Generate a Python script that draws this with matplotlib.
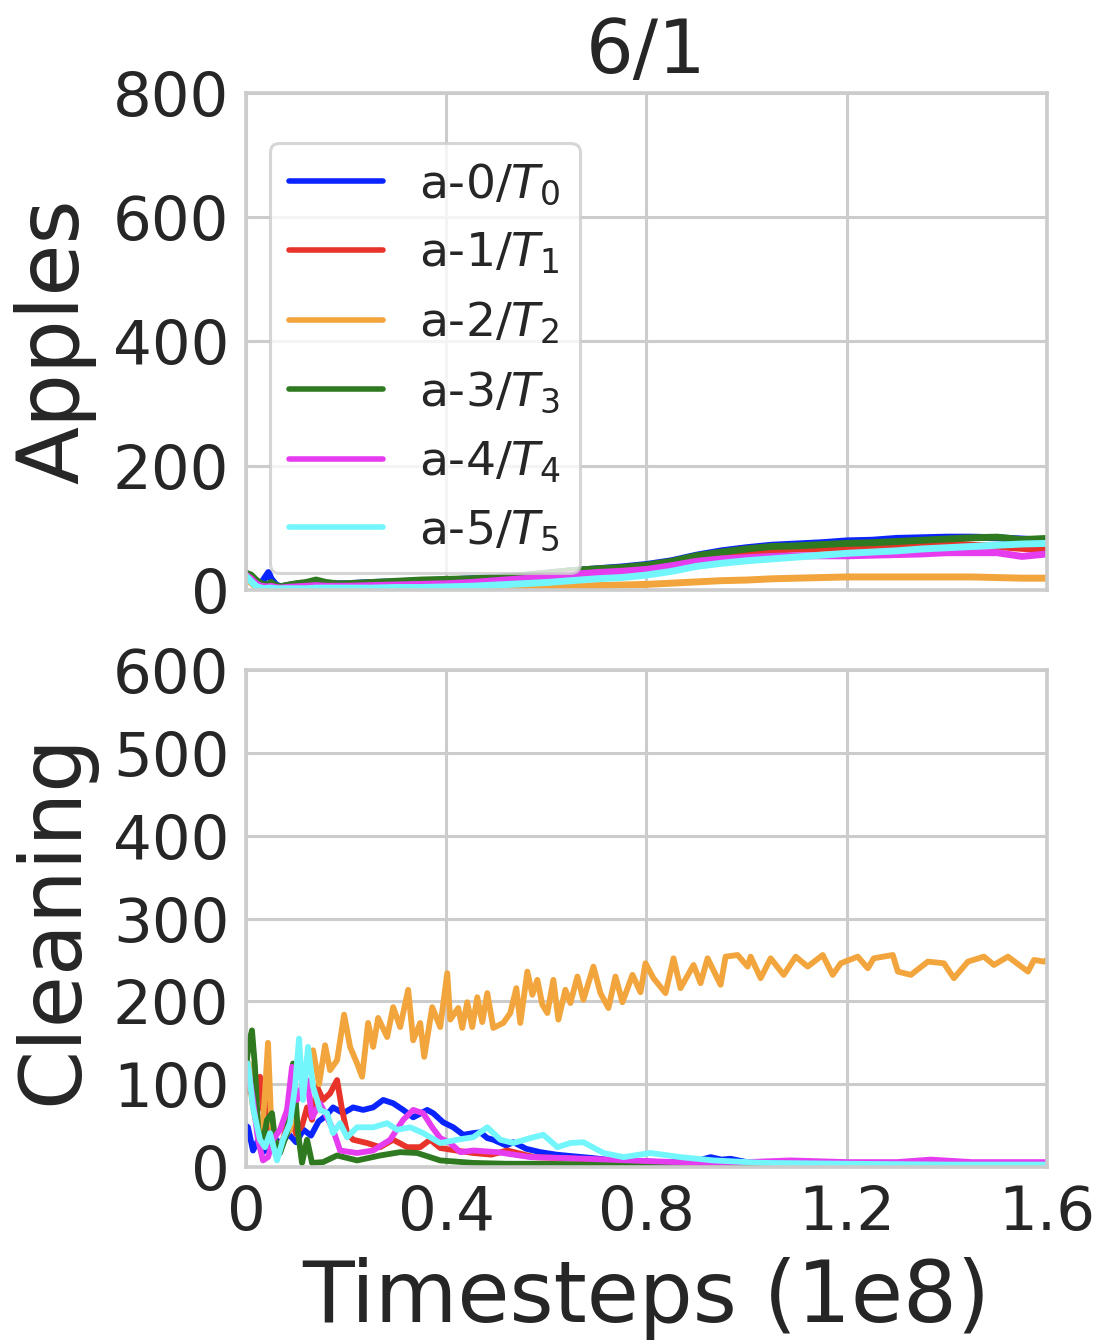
import matplotlib
matplotlib.use('Agg')
import matplotlib.pyplot as plt
import seaborn as sns

sns.set_style('whitegrid')
plt.rcParams['font.family'] = ['DejaVu Sans']
plt.rcParams['mathtext.fontset'] = 'dejavusans'

labels = ['a-0/$T_0$', 'a-1/$T_1$', 'a-2/$T_2$', 'a-3/$T_3$', 'a-4/$T_4$', 'a-5/$T_5$']
colors = ['#0a24ff', '#e8332a', '#f2a53d', '#2f7a20', '#e63cf0', '#72f6fc']

# ---- Apples (top panel), common x in units of 1e8 steps ----
top_x = [0, 0.01, 0.02, 0.03, 0.04, 0.045, 0.05, 0.06, 0.07, 0.08, 0.1, 0.12, 0.14, 0.16, 0.18,
         0.2, 0.25, 0.3, 0.35, 0.4, 0.45, 0.5, 0.55, 0.6, 0.65, 0.7, 0.75, 0.8, 0.85, 0.9, 0.95,
         1.0, 1.05, 1.1, 1.15, 1.2, 1.25, 1.3, 1.35, 1.4, 1.45, 1.5, 1.55, 1.6]
apples_a0 = [26, 22, 14, 10, 22, 28, 18, 8, 5, 7, 9, 11, 13, 11, 10, 10, 12, 13, 15, 16, 18, 20,
             23, 27, 31, 34, 37, 41, 47, 56, 63, 68, 72, 74, 76, 79, 80, 83, 84, 85, 85, 84, 82, 80]
apples_a1 = [25, 20, 12, 8, 7, 8, 9, 6, 4, 6, 8, 9, 11, 10, 9, 9, 11, 12, 14, 15, 16, 18,
             21, 25, 28, 31, 33, 37, 43, 52, 58, 62, 64, 66, 67, 68, 69, 70, 73, 75, 72, 70, 67, 65]
apples_a2 = [20, 12, 5, 2, 1, 1, 1, 1, 1, 1, 1, 1, 1, 1, 1, 1, 1, 1, 1, 1, 2, 3,
             4, 5, 6, 7, 8, 9, 11, 13, 15, 16, 18, 19, 20, 21, 21, 21, 21, 21, 21, 20, 19, 19]
apples_a3 = [27, 24, 16, 10, 8, 9, 12, 7, 5, 7, 10, 12, 16, 12, 10, 10, 12, 14, 16, 17, 18, 20,
             23, 27, 31, 34, 36, 40, 46, 55, 61, 66, 70, 71, 73, 75, 76, 78, 80, 82, 84, 85, 81, 83]
apples_a4 = [24, 18, 10, 6, 5, 5, 6, 4, 3, 4, 5, 6, 7, 6, 6, 6, 7, 8, 9, 10, 12, 15,
             18, 21, 25, 28, 30, 33, 39, 46, 50, 52, 54, 55, 55, 55, 56, 57, 58, 60, 60, 60, 54, 58]
apples_a5 = [22, 14, 6, 3, 2, 3, 3, 2, 2, 2, 2, 2, 3, 3, 3, 3, 3, 4, 4, 5, 6, 8,
             10, 12, 15, 18, 20, 24, 30, 38, 43, 47, 50, 53, 56, 59, 61, 63, 66, 68, 70, 72, 74, 75]

# ---- Cleaning (bottom panel) ----
clean_x_a0 = [0.0, 0.004, 0.014, 0.024, 0.034, 0.046, 0.056, 0.07, 0.085, 0.1, 0.115, 0.13, 0.145,
              0.16, 0.174, 0.194, 0.214, 0.234, 0.254, 0.274, 0.294, 0.314, 0.334, 0.362, 0.374,
              0.394, 0.414, 0.434, 0.454, 0.468, 0.482, 0.494, 0.52, 0.534, 0.56, 0.588, 0.62,
              0.654, 0.69, 0.734, 0.78, 0.83, 0.88, 0.91, 0.928, 0.95, 0.968, 1.0, 1.05, 1.1,
              1.2, 1.3, 1.4, 1.5, 1.6]
clean_a0 = [50, 48, 20, 32, 18, 24, 35, 28, 40, 30, 45, 38, 55, 62, 72, 65, 72, 69, 72, 81,
            77, 69, 60, 69, 65, 54, 48, 39, 41, 42, 35, 33, 26, 30, 22, 18, 15, 13, 11, 8,
            7, 6, 6, 9, 12, 9, 10, 6, 5, 4, 4, 3, 3, 3, 3]

clean_x_a1 = [0.0, 0.008, 0.014, 0.018, 0.028, 0.034, 0.042, 0.052, 0.062, 0.075, 0.088, 0.1,
              0.112, 0.122, 0.132, 0.142, 0.154, 0.168, 0.182, 0.192, 0.202, 0.214, 0.242,
              0.268, 0.294, 0.322, 0.348, 0.368, 0.388, 0.42, 0.454, 0.49, 0.522, 0.576, 0.62,
              0.656, 0.72, 0.8, 0.9, 1.0, 1.2, 1.4, 1.6]
clean_a1 = [90, 97, 80, 101, 109, 69, 81, 29, 15, 35, 65, 40, 50, 72, 57, 97, 81, 89, 105, 69,
            41, 33, 29, 24, 33, 24, 24, 33, 23, 20, 17, 15, 20, 12, 11, 10, 8, 5, 4, 4, 3, 3, 3]

clean_x_a2 = [0.0, 0.006, 0.012, 0.018, 0.026, 0.032, 0.038, 0.044, 0.05, 0.056,
              0.064, 0.075, 0.088, 0.1, 0.112, 0.124, 0.134, 0.146, 0.158, 0.168,
              0.182, 0.196, 0.208, 0.222, 0.232, 0.244, 0.254, 0.264, 0.282, 0.294,
              0.308, 0.324, 0.334, 0.348, 0.356, 0.372, 0.388, 0.402, 0.408, 0.424,
              0.432, 0.442, 0.452, 0.462, 0.472, 0.482, 0.494, 0.514, 0.528, 0.54,
              0.548, 0.562, 0.572, 0.582, 0.592, 0.602, 0.614, 0.624, 0.638, 0.648,
              0.662, 0.674, 0.694, 0.708, 0.724, 0.738, 0.752, 0.772, 0.788, 0.798,
              0.814, 0.838, 0.854, 0.868, 0.894, 0.908, 0.922, 0.948, 0.958, 0.982,
              1.002, 1.008, 1.028, 1.048, 1.074, 1.098, 1.122, 1.152, 1.172, 1.188,
              1.222, 1.242, 1.254, 1.292, 1.302, 1.328, 1.362, 1.394, 1.414, 1.442,
              1.474, 1.494, 1.522, 1.562, 1.574, 1.594, 1.6]
clean_a2 = [110, 125, 80, 60, 45, 40, 90, 150, 60, 30,
            20, 35, 45, 80, 95, 135, 141, 100, 147, 117,
            129, 184, 145, 125, 109, 174, 145, 180, 157, 193,
            169, 214, 153, 174, 133, 193, 169, 234, 178, 192,
            168, 199, 169, 205, 175, 210, 168, 174, 186, 216,
            174, 236, 208, 226, 196, 186, 226, 178, 214, 198,
            230, 202, 242, 210, 192, 230, 199, 232, 211, 246,
            228, 210, 252, 216, 244, 222, 252, 220, 254, 256,
            242, 254, 228, 252, 232, 254, 242, 256, 232, 246,
            254, 240, 252, 256, 236, 232, 248, 246, 228, 248,
            254, 244, 254, 236, 250, 248, 250]

clean_x_a3 = [0.0, 0.006, 0.012, 0.018, 0.024, 0.032, 0.042, 0.052, 0.058, 0.068, 0.082, 0.094,
              0.104, 0.112, 0.122, 0.132, 0.154, 0.182, 0.222, 0.268, 0.308, 0.342, 0.388,
              0.454, 0.52, 0.588, 0.7, 0.8, 1.0, 1.2, 1.4, 1.6]
clean_a3 = [120, 150, 165, 121, 48, 24, 57, 65, 33, 17, 41, 125, 41, 5, 33, 5, 6, 14, 8, 14,
            18, 17, 8, 5, 4, 4, 3, 3, 2, 2, 2, 2]

clean_x_a4 = [0.0, 0.004, 0.014, 0.024, 0.034, 0.044, 0.054, 0.068, 0.082, 0.092, 0.102, 0.112,
              0.122, 0.132, 0.148, 0.162, 0.174, 0.188, 0.222, 0.254, 0.288, 0.314, 0.334,
              0.354, 0.372, 0.388, 0.408, 0.428, 0.454, 0.502, 0.568, 0.634, 0.768, 0.902,
              1.0, 1.088, 1.2, 1.3, 1.368, 1.45, 1.6]
clean_a4 = [100, 121, 81, 33, 8, 12, 33, 45, 69, 121, 81, 97, 105, 60, 77, 60, 45, 20, 17, 20,
            33, 57, 69, 65, 48, 35, 29, 18, 20, 18, 12, 11, 8, 5, 6, 8, 6, 6, 9, 6, 6]

clean_x_a5 = [0.0, 0.004, 0.014, 0.028, 0.038, 0.048, 0.062, 0.074, 0.088, 0.098, 0.106, 0.114,
              0.124, 0.134, 0.148, 0.162, 0.174, 0.188, 0.202, 0.222, 0.254, 0.282, 0.302,
              0.328, 0.354, 0.388, 0.422, 0.454, 0.482, 0.508, 0.534, 0.568, 0.594, 0.622,
              0.648, 0.674, 0.714, 0.754, 0.808, 0.868, 0.934, 1.034, 1.2, 1.4, 1.6]
clean_a5 = [110, 125, 72, 33, 24, 41, 8, 33, 53, 97, 155, 81, 145, 97, 69, 65, 41, 53, 36, 48,
            48, 53, 45, 48, 41, 29, 33, 36, 48, 33, 29, 35, 39, 24, 29, 30, 17, 12, 17, 12,
            8, 5, 4, 3, 3]

apples = [apples_a0, apples_a1, apples_a2, apples_a3, apples_a4, apples_a5]
clean_xs = [clean_x_a0, clean_x_a1, clean_x_a2, clean_x_a3, clean_x_a4, clean_x_a5]
cleans = [clean_a0, clean_a1, clean_a2, clean_a3, clean_a4, clean_a5]

txt = '#262626'
fig = plt.figure(figsize=(11.02, 13.43), dpi=100)
ax1 = fig.add_axes([0.2232, 0.5607, 0.7269, 0.3701])
ax2 = fig.add_axes([0.2232, 0.1310, 0.7269, 0.3701])

for i in range(6):
    ax1.plot(top_x, apples[i], color=colors[i], lw=5, label=labels[i])
    ax2.plot(clean_xs[i], cleans[i], color=colors[i], lw=4.2)

for ax in (ax1, ax2):
    ax.set_xlim(0, 1.6)
    ax.set_xticks([0, 0.4, 0.8, 1.2, 1.6])
    ax.grid(True, color='#cccccc', lw=2.2)
    for s in ax.spines.values():
        s.set_color('#cccccc')
        s.set_linewidth(2.6)
    ax.tick_params(length=0, labelsize=44, colors=txt, pad=12)

ax1.set_ylim(0, 800)
ax1.set_yticks([0, 200, 400, 600, 800])
ax1.set_xticklabels([])
ax1.set_ylabel('Apples', fontsize=61, color=txt, labelpad=12)
ax1.set_title('6/1', fontsize=54, color=txt, pad=14)

ax2.set_ylim(0, 600)
ax2.set_yticks([0, 100, 200, 300, 400, 500, 600])
ax2.set_xticklabels(['0', '0.4', '0.8', '1.2', '1.6'])
ax2.set_ylabel('Cleaning', fontsize=61, color=txt, labelpad=13)
ax2.set_xlabel('Timesteps (1e8)', fontsize=61, color=txt, labelpad=10)

leg = ax1.legend(loc='upper left', bbox_to_anchor=(0.03, 0.90), borderaxespad=0,
                 fontsize=34, handlelength=2.0, handletextpad=0.75, labelspacing=0.5,
                 frameon=True, fancybox=True, framealpha=0.8, edgecolor='#cccccc')
leg.get_frame().set_linewidth(2.2)
for t in leg.get_texts():
    t.set_color(txt)
for h in leg.get_lines():
    h.set_linewidth(4)

fig.savefig('out.png', dpi=100)
